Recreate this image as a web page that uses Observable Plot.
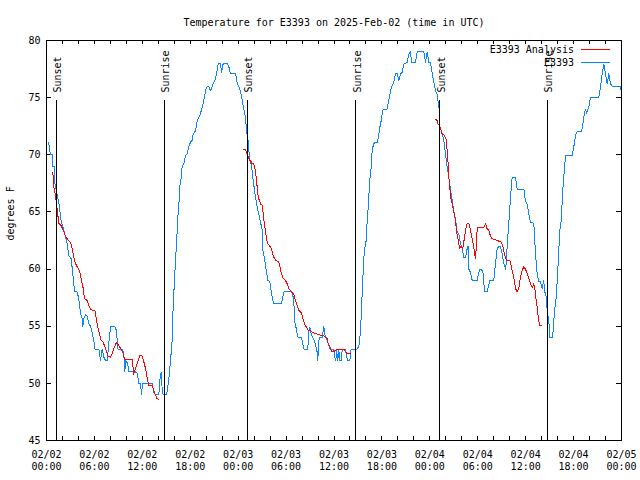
<!DOCTYPE html>
<html><head><meta charset="utf-8">
<script src="https://cdn.jsdelivr.net/npm/d3@7"></script>
<script src="https://cdn.jsdelivr.net/npm/@observablehq/plot@0.6"></script>
<style>body{margin:0;background:#fff;}</style>
</head><body><div id="chart"></div>
<script>
const title = "Temperature for E3393 on 2025-Feb-02 (time in UTC)";
const yLabel = "degrees F";
const startTime = "2025-02-02T00:00:00Z";
const endTime = "2025-02-05T00:00:00Z";
const yTicks = [45, 50, 55, 60, 65, 70, 75, 80];
const seriesNames = ["E3393 Analysis", "E3393"];
const seriesColors = ["#ff0000", "#0a84ff"];

// hours after 2025-02-02 00:00 UTC
const sunEventHours = [1.25, 14.81, 25.17, 38.73, 49.25, 62.77];
const sunEventLabels = ["Sunset", "Sunrise", "Sunset", "Sunrise", "Sunset", "Sunrise"];

// E3393 observations
const obsHours = [0.25,0.5,0.79,0.8,1.0,1.04,1.29,1.54,1.79,1.92,2.17,2.59,2.79,3.09,3.29,3.42,3.51,3.84,4.04,4.26,4.47,4.55,4.67,4.88,5.10,5.30,5.51,5.72,5.92,6.05,6.55,6.76,6.97,7.18,7.39,7.60,7.80,8.01,8.10,8.52,8.77,8.93,9.48,9.68,9.80,9.93,10.18,10.31,11.14,11.36,11.56,11.77,11.90,12.02,13.24,13.44,13.65,14.06,14.19,14.36,14.49,14.61,15.03,15.19,15.36,15.53,15.74,15.87,16.03,16.15,16.28,16.37,16.44,16.57,16.69,16.87,16.99,17.19,17.41,17.62,17.82,18.03,18.24,18.37,18.66,18.87,19.20,19.50,19.70,19.91,20.12,20.32,20.54,20.75,21.16,21.38,21.50,21.79,21.91,22.13,22.63,22.83,23.04,23.67,23.88,24.29,24.51,24.71,24.92,25.04,25.21,25.33,25.46,25.63,25.76,25.88,26.05,26.17,26.38,26.58,26.80,27.01,27.02,27.21,27.34,27.51,27.71,27.96,28.14,28.34,28.46,29.43,29.64,29.72,30.68,30.84,30.97,31.05,31.27,31.39,31.52,31.93,32.14,32.22,32.72,32.85,32.97,33.18,33.56,33.81,33.90,33.97,34.10,34.22,34.52,34.65,34.72,34.85,35.06,35.35,35.47,35.98,36.10,36.23,36.31,36.48,36.60,36.73,36.94,37.03,37.44,37.57,37.73,37.98,38.15,38.91,39.11,39.23,39.32,39.44,39.53,39.66,39.73,39.86,40.03,40.07,40.23,40.48,40.66,40.78,40.91,41.07,41.41,41.54,41.74,41.91,42.11,42.24,42.66,42.79,42.99,43.16,43.29,43.49,43.70,43.91,44.11,44.33,44.54,44.74,45.17,45.37,45.58,45.71,46.21,46.42,47.25,47.46,47.67,47.87,48.08,48.30,48.50,48.71,48.92,49.12,49.25,49.26,49.42,49.55,49.75,49.96,50.18,50.38,50.59,50.80,51.00,51.21,51.43,51.63,51.84,52.05,52.25,52.47,52.68,52.80,52.88,53.09,53.31,53.93,54.13,54.26,54.47,54.68,54.85,55.18,55.38,55.51,56.01,56.22,56.44,56.64,56.85,57.06,57.26,57.48,57.60,57.69,57.89,58.10,58.31,58.73,58.94,59.77,59.98,60.19,60.39,60.61,61.02,61.23,61.44,61.65,61.86,62.07,62.27,62.36,62.61,62.70,62.90,63.02,63.32,63.45,63.52,63.65,63.82,63.95,64.07,64.15,64.27,64.45,64.70,64.99,65.83,66.03,66.24,66.45,66.99,67.16,67.28,67.49,67.62,67.91,68.12,69.16,69.37,69.58,69.79,70.00,70.21,70.41,70.62,70.84,71.88,72.0];
const obsTemp = [71.1,70,70,69,69,67.5,66.7,65.8,64.4,64,63.4,62.2,61.2,60.9,59.6,58.7,58,58,57.4,56.1,55.7,55,55.7,56,55.9,55.2,55,54.4,53.8,53,53,52,53,52.3,52,52,53.5,54.9,55,55,54.6,53,53,52.6,51,52,51.7,51,51,50.9,50,50,49,50,50,49.2,49,49,50.3,51,49.4,49,49,49.7,50.7,52,53.8,57,59,60.7,62.2,63.4,64.5,65.6,67.2,68,69,69.2,69.9,70.1,70.7,71.1,71.25,71.8,72.1,73,73.4,74.2,74.75,75.6,76,76,75.6,76,76.65,77.4,78,78,77.2,78,78,77.7,77.1,77.1,76.3,75.6,74.75,74,73.3,72.1,71.5,70.4,69.5,69.2,68.5,67.75,66.9,66.3,65.4,64.8,64.1,63.4,61.9,61.3,60.75,59.9,59,58.9,58,57.25,57,57,57.7,58,58,57.7,57.25,55.5,54.8,54.3,54,54,53.3,53,53,54.6,54.9,54.2,53.75,53,52.7,52,53.75,54,54,54.6,55,54.3,53.9,53.3,53,53,52.3,52,52.9,52,53,52,52,53,53,52.3,52,52,53,53,53.3,53.75,54.9,56.1,58,59.9,61,61.8,62.5,63.4,64.8,67.75,68.9,70.4,70.8,71.1,71.1,71.5,72.4,73,73.9,74,74,74.6,75.2,75.8,76.1,76.35,77.1,77.1,76.5,77.1,77.2,77.95,78.1,78.8,79,78.1,78.1,79,79,78.1,79,78.1,78.1,77.1,76.35,75.6,75.3,74.2,73.6,72.4,72.1,71.8,71.25,70.1,68.9,68,66.9,66,65.1,64.4,63.2,63.1,62.2,61.9,61,61,61.8,62,60,59.7,59,59,59.7,60,60,59.6,58,58,58.6,59,59,60.5,61.8,62,62,61.3,60.5,60,60.75,62.2,64,66.3,68,68,67,67,65.9,65.7,64.8,64.1,64,61.3,59.6,58.9,58.9,58.3,59,58.1,57.5,56.2,55.5,54,54,54.6,55.5,56.5,57.5,59,60.5,61.6,63.4,64.25,67.5,69.9,69.9,70.7,71.7,72,72,72.7,73.3,74,73.6,74.2,75,75,75.9,77.1,77.95,77.1,76.2,77.1,76.2,76,76,75.3];

// E3393 Analysis, three separate runs
const anaHoursA = [0.79,0.91,1.13,1.25,1.41,1.54,1.84,2.09,2.38,2.72,3.01,3.22,3.42,3.63,3.84,4.04,4.17,4.38,4.60,4.76,5.10,5.30,5.51,5.72,6.05,6.26,6.42,6.67,6.85,7.10,7.26,7.48,7.68,8.01,8.23,8.52,8.77,9.05,9.35,9.60,9.77,10.73,10.93,11.14,11.43,11.68,11.98,12.18,12.40,12.61,12.81,13.24,13.44,13.65,13.86,14.06];
const anaTempA = [68.5,67.2,66.4,65.7,64.8,64,63.8,63.4,62.9,62.5,62.35,61.8,61,60.5,60.2,60,59.7,59,58.3,57.4,57.25,56.8,56.5,56.4,56.4,55.6,54.9,54.2,53.75,53.6,53.3,52.9,52.4,52.3,52.6,53.2,53.6,53.3,53,52.6,52.1,52.1,50.8,51.3,51.9,52.4,52.4,51.9,51.3,50.5,49.8,49.8,49.4,48.95,48.65,48.6];
const anaHoursB = [24.63,24.92,25.04,25.21,25.46,25.63,25.76,25.96,26.17,26.30,26.46,26.58,26.80,27.01,27.14,27.30,27.42,27.55,27.71,27.96,28.14,28.34,28.55,28.76,29.09,29.21,29.39,29.64,29.93,30.14,30.34,30.68,30.97,31.18,31.39,31.59,31.89,32.14,32.31,32.64,32.85,33.06,33.27,33.47,33.97,34.31,34.65,34.94,35.15,35.27,35.47,35.69,35.98,36.31,36.60,37.23,37.44,37.65,38.07];
const anaTempB = [70.5,70.5,70.2,69.9,69.5,69.4,69.2,69.2,68.6,67.75,66.6,66.15,65.7,65.6,64.8,63.8,63.4,62.65,62.2,62,61.8,61.3,60.9,60.75,60.6,60.3,59.7,59.2,59,58.7,58.3,58,57.8,57.25,56.8,56.4,56.2,55.6,55.2,54.8,54.6,54.6,54.5,54.4,54.3,54.2,54.2,54,53.9,53.5,53.2,52.8,52.8,52.95,53,53,52.8,52.6,52.6];
const anaHoursC = [48.71,48.92,49.00,49.25,49.42,49.55,49.84,50.09,50.18,50.30,50.38,50.50,50.59,50.80,51.00,51.21,51.34,51.50,51.63,51.75,51.93,52.05,52.18,52.34,52.47,52.68,52.88,53.09,53.31,53.51,53.63,53.72,53.84,53.93,54.76,54.97,55.18,55.38,55.59,55.80,56.44,56.97,57.18,57.35,57.60,58.02,58.19,58.35,58.51,58.73,58.94,59.14,59.35,59.57,59.77,59.98,60.19,60.39,60.61,60.82,61.02,61.15,61.32,61.44,61.57,61.73,61.98];
const anaTempC = [73.1,73,72.7,72.5,72.1,71.8,71.7,71.25,70.1,69.2,68,67.2,66.3,65.7,65,64.25,63.3,62.8,62.2,61.8,62,61.8,62,62.8,63.4,64,64,63.4,62.65,61.9,61.3,60.9,62.2,63.6,63.6,64,63.5,63.4,62.9,62.65,62.5,62.35,61.9,61.3,60.75,60.75,60.3,59.7,59.3,58.3,58,58.3,59.3,59.9,60.2,60,59.6,59.2,58.7,58.4,58.7,58.3,57.25,56.7,55.8,55.1,55.1];

// ---- build tables ----
const t0 = new Date(startTime), t1 = new Date(endTime);
const toDate = h => new Date(+t0 + h * 3600e3);
const obs = obsHours.map((h, i) => ({t: toDate(h), v: obsTemp[i]}));
const ana = [[anaHoursA, anaTempA], [anaHoursB, anaTempB], [anaHoursC, anaTempC]]
  .flatMap(([hs, vs], s) => hs.map((h, i) => ({t: toDate(h), v: vs[i], seg: s})));
const sun = sunEventHours.map((h, i) => ({t: toDate(h), label: sunEventLabels[i]}));

const W = 640, H = 480, mL = 46, mR = 19, mT = 40, mB = 40;
const fw = W - mL - mR, fh = H - mT - mB;
const yMin = yTicks[0], yMax = yTicks[yTicks.length - 1];
const gy = f => yMin + f * (yMax - yMin);
const xLabelTimes = d3.utcHour.every(6).range(t0, new Date(+t1 + 1));
const xTickTimes = d3.utcHour.every(2).range(t0, new Date(+t1 + 1));
const font = "DejaVu Sans Mono";

function legend() {
  const g = d3.create("svg:g").attr("font-family", font).attr("font-size", 10);
  seriesNames.forEach((name, i) => {
    const y = mT + 9.5 + i * 13;
    g.append("text").attr("x", W - mR - 47).attr("y", y + 0.5).attr("dy", "0.32em")
      .attr("text-anchor", "end").attr("fill", "black").text(name);
    g.append("line").attr("x1", W - mR - 40).attr("x2", W - mR - 11)
      .attr("y1", y).attr("y2", y).attr("stroke", seriesColors[i]).attr("stroke-width", 1)
      .attr("shape-rendering", "crispEdges");
  });
  return g.node();
}

const chart = Plot.plot({
  width: W, height: H,
  marginLeft: mL, marginRight: mR, marginTop: mT, marginBottom: mB,
  style: {fontFamily: font, fontSize: "10px", background: "white", color: "black"},
  x: {type: "utc", domain: [t0, t1]},
  y: {domain: [yMin, yMax]},
  marks: [
    Plot.axisX({ticks: xLabelTimes, tickFormat: d3.utcFormat("%m/%d\n%H:%M"), tickSize: 0, tickPadding: 8.5, lineHeight: 1.25, label: null, fontSize: 10}),
    Plot.axisY({ticks: yTicks, tickSize: 0, tickPadding: 6, label: null, fontSize: 10}),
    Plot.tickX(xTickTimes, {insetTop: fh - 4, stroke: "black", shapeRendering: "crispEdges"}),
    Plot.tickX(xTickTimes, {insetBottom: fh - 4, stroke: "black", shapeRendering: "crispEdges"}),
    Plot.tickY(yTicks, {insetRight: fw - 5, stroke: "black", shapeRendering: "crispEdges"}),
    Plot.tickY(yTicks, {insetLeft: fw - 5, stroke: "black", shapeRendering: "crispEdges"}),
    Plot.line(obs, {x: "t", y: "v", stroke: seriesColors[1], strokeWidth: 1, shapeRendering: "crispEdges"}),
    Plot.line(ana, {x: "t", y: "v", z: "seg", stroke: seriesColors[0], strokeWidth: 1, shapeRendering: "crispEdges"}),
    Plot.ruleX(sun, {x: "t", y1: yMin, y2: gy(0.85), stroke: "black", strokeWidth: 1, shapeRendering: "crispEdges"}),
    Plot.text(sun, {x: "t", y: gy(0.87), text: "label", rotate: -90, textAnchor: "start", lineAnchor: "middle", dx: 1.5, fontSize: 10, fill: "black"}),
    Plot.frame({stroke: "black", shapeRendering: "crispEdges"}),
    Plot.text([title], {frameAnchor: "top", dy: -22, fontSize: 10, fill: "black"}),
    Plot.text([yLabel], {frameAnchor: "left", dx: -36, rotate: -90, fontSize: 10, fill: "black"}),
    legend
  ]
});
document.getElementById("chart").append(chart);
</script>
</body></html>
